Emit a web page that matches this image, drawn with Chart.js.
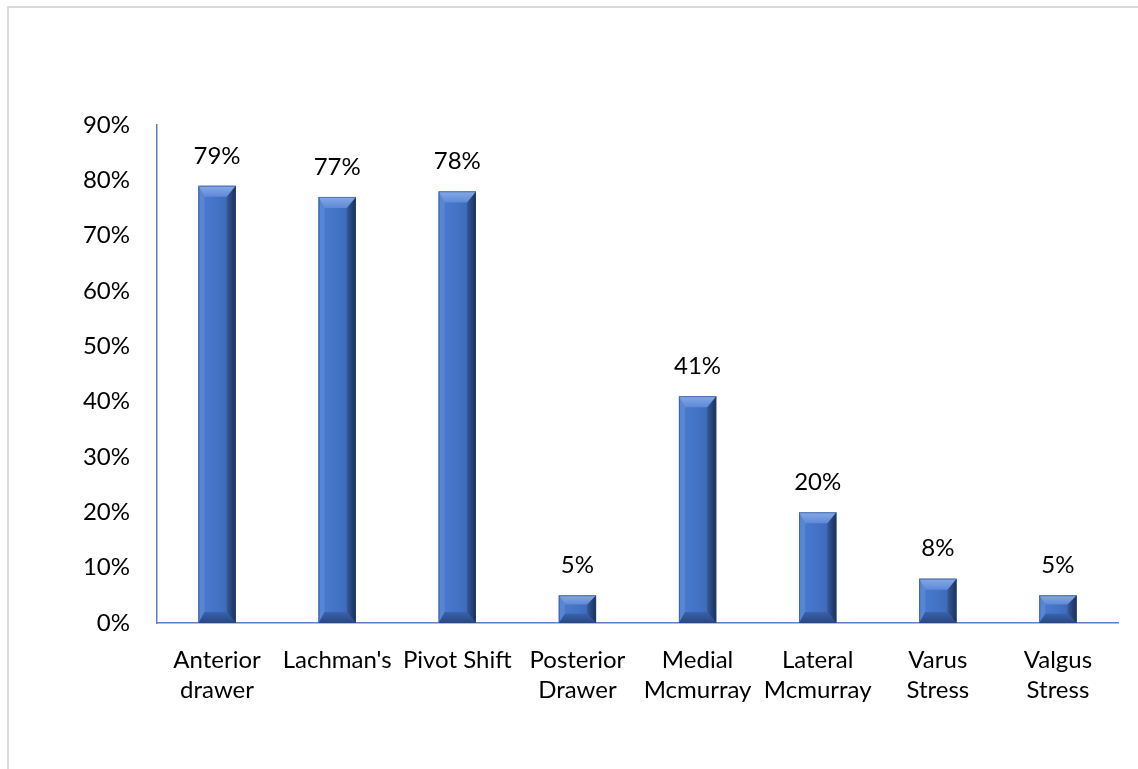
<!DOCTYPE html>
<html>
<head>
<meta charset="utf-8">
<script src="https://cdn.jsdelivr.net/npm/chart.js@4.4.1/dist/chart.umd.min.js"></script>
<style>
    html, body { margin: 0; padding: 0; background: #ffffff; }
    #wrap { position: relative; width: 1138px; height: 769px; overflow: hidden; }
    #frame {
        position: absolute; left: 7px; top: 6px; width: 1200px; height: 800px;
        border: 2px solid #d9d9d9; box-sizing: border-box;
    }
    canvas { position: absolute; left: 0; top: 0; }
</style>
</head>
<body>
<div id="wrap">
    <div id="frame"></div>
    <canvas id="testsChart" width="1138" height="769"></canvas>
</div>
<script>
// Chart data
const categories = [
    ['Anterior', 'drawer'],
    "Lachman's",
    'Pivot Shift',
    ['Posterior', 'Drawer'],
    ['Medial', 'Mcmurray'],
    ['Lateral', 'Mcmurray'],
    ['Varus', 'Stress'],
    ['Valgus', 'Stress']
];
const positiveRates = [79, 77, 78, 5, 41, 20, 8, 5];
const yTicks = [0, 10, 20, 30, 40, 50, 60, 70, 80, 90];

const FONT_FAMILY = 'Lato, "Noto Sans", sans-serif';
const AXIS_COLOR = '#5b80c8';
const BAR_COLOR = '#4472c4';

// Value labels above each bar
const valueLabels = {
    id: 'valueLabels',
    afterDatasetsDraw(chart) {
        const ctx = chart.ctx;
        const meta = chart.getDatasetMeta(0);
        ctx.save();
        ctx.font = '24px ' + FONT_FAMILY;
        ctx.fillStyle = '#000000';
        ctx.textAlign = 'center';
        ctx.textBaseline = 'middle';
        meta.data.forEach((bar, i) => {
            ctx.fillText(positiveRates[i] + '%', bar.x, bar.y - 30);
        });
        ctx.restore();
    }
};

// Excel-like bevel on the bars
const barBevel = {
    id: 'barBevel',
    afterDatasetsDraw(chart) {
        const ctx = chart.ctx;
        const meta = chart.getDatasetMeta(0);
        ctx.save();
        meta.data.forEach(bar => {
            const p = bar.getProps(['x', 'y', 'base', 'width'], true);
            const L = p.x - p.width / 2, R = p.x + p.width / 2;
            const T = p.y, B = p.base;
            const h = B - T;
            const d = Math.min(11, h / 3);
            const dl = 6, dr = 9;

            // face
            const face = ctx.createLinearGradient(L, 0, R, 0);
            face.addColorStop(0, '#4a7bd0');
            face.addColorStop(0.5, '#4473c5');
            face.addColorStop(1, '#3a64ad');
            ctx.fillStyle = face;
            ctx.fillRect(L, T, R - L, h);

            // left side
            ctx.fillStyle = '#5886d6';
            ctx.beginPath();
            ctx.moveTo(L, T); ctx.lineTo(L + dl, T + d); ctx.lineTo(L + dl, B - d); ctx.lineTo(L, B);
            ctx.closePath(); ctx.fill();

            // right side
            const rs = ctx.createLinearGradient(R - dr, 0, R, 0);
            rs.addColorStop(0, '#34599c');
            rs.addColorStop(1, '#1b2f57');
            ctx.fillStyle = rs;
            ctx.beginPath();
            ctx.moveTo(R, T); ctx.lineTo(R - dr, T + d); ctx.lineTo(R - dr, B - d); ctx.lineTo(R, B);
            ctx.closePath(); ctx.fill();

            // top
            const tp = ctx.createLinearGradient(0, T, 0, T + d);
            tp.addColorStop(0, '#86aae6');
            tp.addColorStop(1, '#5d89d6');
            ctx.fillStyle = tp;
            ctx.beginPath();
            ctx.moveTo(L, T); ctx.lineTo(R, T); ctx.lineTo(R - dr, T + d); ctx.lineTo(L + dl, T + d);
            ctx.closePath(); ctx.fill();

            // bottom
            const bt = ctx.createLinearGradient(0, B - d, 0, B);
            bt.addColorStop(0, '#3a63ab');
            bt.addColorStop(1, '#284782');
            ctx.fillStyle = bt;
            ctx.beginPath();
            ctx.moveTo(L, B); ctx.lineTo(R, B); ctx.lineTo(R - dr, B - d); ctx.lineTo(L + dl, B - d);
            ctx.closePath(); ctx.fill();

            // edge
            ctx.strokeStyle = 'rgba(40, 70, 130, 0.5)';
            ctx.lineWidth = 1;
            ctx.strokeRect(L + 0.5, T + 0.5, R - L - 1, h - 1);
        });
        ctx.restore();
    }
};

const ctx = document.getElementById('testsChart').getContext('2d');
new Chart(ctx, {
    type: 'bar',
    data: {
        labels: categories,
        datasets: [{
            label: 'Positive',
            data: positiveRates,
            backgroundColor: BAR_COLOR,
            borderWidth: 0,
            barPercentage: 0.31,
            categoryPercentage: 1
        }]
    },
    options: {
        responsive: false,
        animation: false,
        events: [],
        layout: {
            padding: { left: 0, top: 125, right: 20, bottom: 0 }
        },
        plugins: {
            legend: { display: false },
            tooltip: { enabled: false }
        },
        scales: {
            x: {
                grid: { display: false, drawTicks: false },
                border: { display: true, color: AXIS_COLOR, width: 1.5 },
                ticks: {
                    color: '#000000',
                    padding: 22,
                    maxRotation: 0,
                    autoSkip: false,
                    font: { family: FONT_FAMILY, size: 24, lineHeight: 1.25 }
                },
                afterFit(scale) { scale.height = 769 - 623; }
            },
            y: {
                min: 0,
                max: 90,
                afterBuildTicks(scale) {
                    scale.ticks = yTicks.map(v => ({ value: v }));
                },
                grid: { display: false, drawTicks: false },
                border: { display: true, color: AXIS_COLOR, width: 1.5 },
                ticks: {
                    color: '#000000',
                    padding: 27,
                    font: { family: FONT_FAMILY, size: 24 },
                    callback: v => v + '%'
                },
                afterFit(scale) { scale.width = 157; }
            }
        }
    },
    plugins: [barBevel, valueLabels]
});
</script>
</body>
</html>
